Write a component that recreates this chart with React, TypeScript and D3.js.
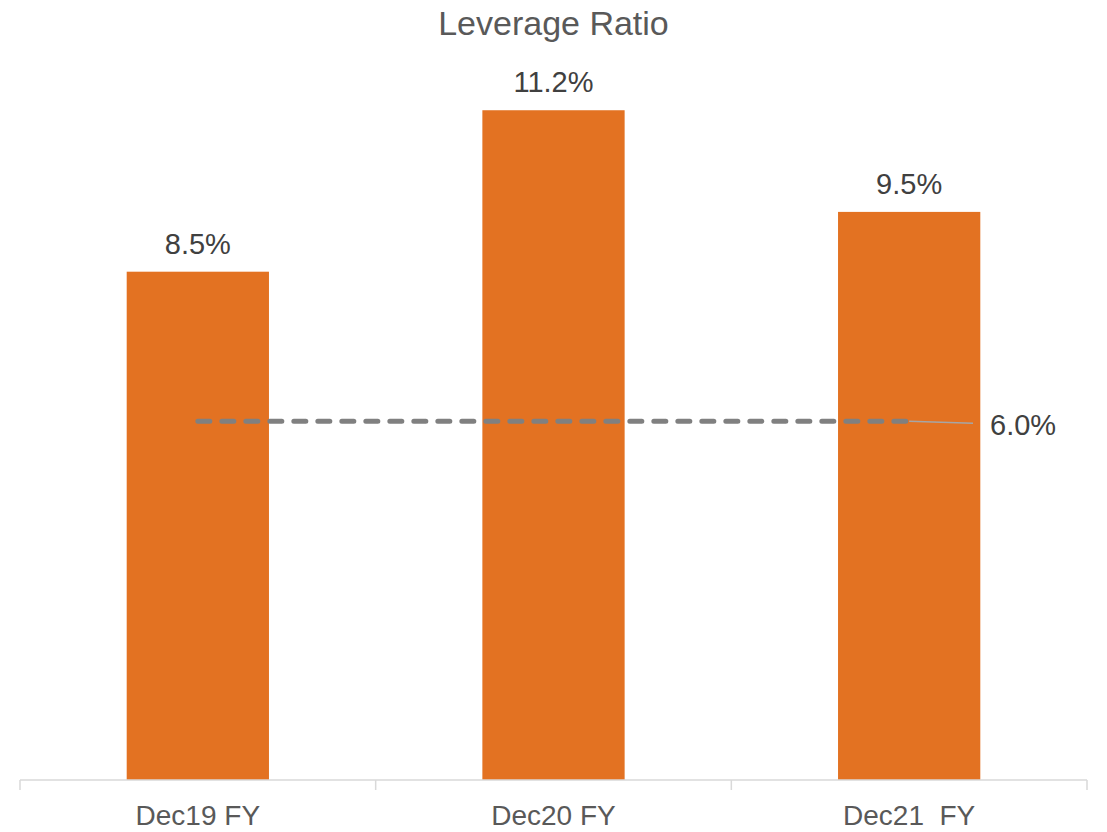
import React from "react";
import * as d3 from "d3";

const categories = ["Dec19 FY", "Dec20 FY", "Dec21  FY"];
const leverageValues = [8.5, 11.2, 9.5];
const minimumRequirement = [6.0, 6.0, 6.0];
const valueLabels = ["8.5%", "11.2%", "9.5%"];
const minimumLabel = "6.0%";
const chartTitle = "Leverage Ratio";

const WIDTH = 1107;
const HEIGHT = 832;
const FONT = "'Liberation Sans', Arial, sans-serif";

export default function App() {
  const x = d3
    .scaleBand<string>()
    .domain(categories)
    .range([20, 1087])
    .paddingInner(0.6)
    .paddingOuter(0.3);

  const y = d3.scaleLinear().domain([0, 12]).range([780, 780 - 12 * 59.8]);

  const center = (c: string) => (x(c) ?? 0) + x.bandwidth() / 2;

  const line = d3
    .line<number>()
    .x((_, i) => center(categories[i]))
    .y((d) => y(d));

  const lastX = center(categories[categories.length - 1]);
  const lastY = y(minimumRequirement[minimumRequirement.length - 1]);

  const step = x.step();
  const tickXs = [0, 1, 2, 3].map((i) => 20 + i * step);

  return (
    <svg
      width={WIDTH}
      height={HEIGHT}
      style={{ position: "absolute", left: 0, top: 0, background: "#fff" }}
      fontFamily={FONT}
    >
      <text
        x={WIDTH / 2}
        y={35}
        textAnchor="middle"
        fontSize={34}
        fill="#595959"
      >
        {chartTitle}
      </text>

      {/* bars */}
      {categories.map((c, i) => (
        <rect
          key={c}
          x={x(c)}
          y={y(leverageValues[i])}
          width={x.bandwidth()}
          height={y(0) - y(leverageValues[i])}
          fill="#e37222"
        />
      ))}

      {/* value labels */}
      {categories.map((c, i) => (
        <text
          key={c + "-lbl"}
          x={center(c)}
          y={y(leverageValues[i]) - 18}
          textAnchor="middle"
          fontSize={29}
          fill="#404040"
        >
          {valueLabels[i]}
        </text>
      ))}

      {/* category axis */}
      <line x1={20} x2={1087} y1={780} y2={780} stroke="#d9d9d9" strokeWidth={1.5} />
      {tickXs.map((tx, i) => (
        <line key={i} x1={tx} x2={tx} y1={780} y2={790} stroke="#d9d9d9" strokeWidth={1.5} />
      ))}
      {categories.map((c) => (
        <text
          key={c + "-cat"}
          x={center(c)}
          y={825}
          textAnchor="middle"
          fontSize={28}
          fill="#595959"
          style={{ whiteSpace: "pre" }}
        >
          {c}
        </text>
      ))}

      {/* minimum requirement line */}
      <path
        d={line(minimumRequirement) ?? ""}
        fill="none"
        stroke="#808080"
        strokeWidth={5}
        strokeDasharray="12 12"
        strokeLinecap="round"
      />
      <line
        x1={lastX}
        y1={lastY}
        x2={973}
        y2={lastY + 2}
        stroke="#a6a6a6"
        strokeWidth={1.5}
      />
      <text x={990} y={435} fontSize={29} fill="#404040">
        {minimumLabel}
      </text>
    </svg>
  );
}
